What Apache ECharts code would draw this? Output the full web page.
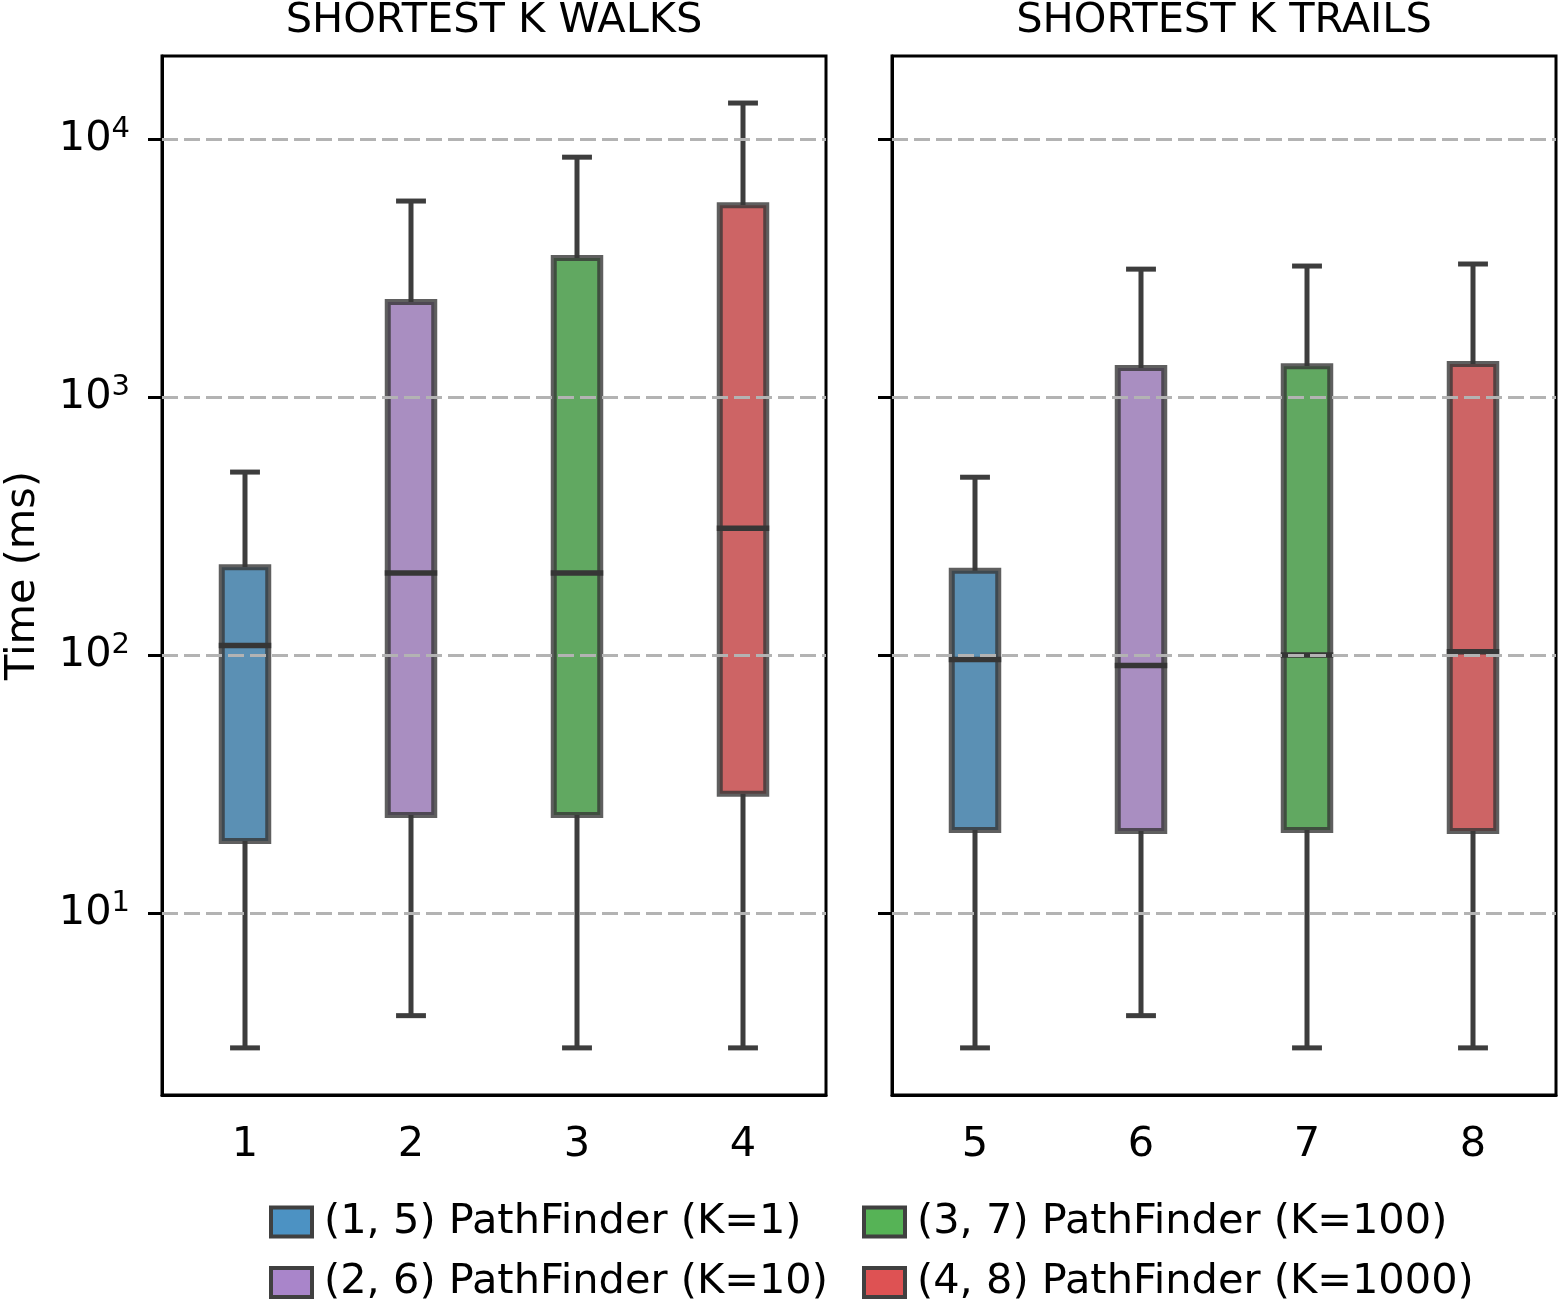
<!DOCTYPE html>
<html>
<head>
<meta charset="utf-8">
<script src="https://cdn.jsdelivr.net/npm/echarts@6/dist/echarts.min.js"></script>
<style>
  html, body { margin: 0; padding: 0; background: #fff; }
  #main { width: 1559px; height: 1300px; }
</style>
</head>
<body>
<div id="main"></div>
<script>
// 数据
const walkCategories = ['1', '2', '3', '4'];
const trailCategories = ['5', '6', '7', '8'];
const panelTitles = ['SHORTEST K WALKS', 'SHORTEST K TRAILS'];
const methodNames = [
  '(1, 5) PathFinder (K=1)',
  '(2, 6) PathFinder (K=10)',
  '(3, 7) PathFinder (K=100)',
  '(4, 8) PathFinder (K=1000)'
];
const yTickValues = [10, 100, 1000, 10000];

// boxes 1..8: lower whisker, Q1, median, Q3, upper whisker (ms)
const whiskerLow = [3, 4, 3, 3, 3, 4, 3, 3];
const quartile1 = [19, 24, 24, 29, 21, 20.8, 21, 20.8];
const medians = [109, 208, 208, 310, 96, 91, 100, 103];
const quartile3 = [219, 2335, 3459, 5546, 212, 1295, 1318, 1342];
const whiskerHigh = [512, 5754, 8511, 13800, 489, 3133, 3221, 3280];

// 颜色
const boxColors = ['#5b90b4', '#a98ec1', '#61a861', '#cd6465'];
const legendColors = ['#4c92c3', '#a985ca', '#56b356', '#de5253'];

const FONT = 'DejaVu Sans';
const FS = 41.5;
const chart = echarts.init(document.getElementById('main'), null, { renderer: 'canvas' });

function makeRender(fill) {
  return function (params, api) {
    const cat = api.value(0);
    const band = api.size([1, 0])[0];
    const boxW = band * 0.28;
    const capW = band * 0.18;
    const lo = api.coord([cat, api.value(1)]);
    const b1 = api.coord([cat, api.value(2)]);
    const md = api.coord([cat, api.value(3)]);
    const b3 = api.coord([cat, api.value(4)]);
    const hi = api.coord([cat, api.value(5)]);
    const cx = lo[0];
    const ws = { stroke: '#3d3d3d', lineWidth: 5 };
    return {
      type: 'group',
      children: [
        { type: 'line', shape: { x1: cx, y1: lo[1], x2: cx, y2: b1[1] }, style: ws },
        { type: 'line', shape: { x1: cx, y1: b3[1], x2: cx, y2: hi[1] }, style: ws },
        { type: 'line', shape: { x1: cx - capW / 2, y1: lo[1], x2: cx + capW / 2, y2: lo[1] }, style: ws },
        { type: 'line', shape: { x1: cx - capW / 2, y1: hi[1], x2: cx + capW / 2, y2: hi[1] }, style: ws },
        {
          type: 'rect',
          shape: { x: cx - boxW / 2, y: b3[1], width: boxW, height: b1[1] - b3[1] },
          style: { fill: fill, stroke: 'rgba(55,55,55,0.8)', lineWidth: 6 }
        },
        {
          type: 'line',
          shape: { x1: cx - boxW / 2 - 3, y1: md[1], x2: cx + boxW / 2 + 3, y2: md[1] },
          style: { stroke: '#363636', lineWidth: 5.5 }
        }
      ]
    };
  };
}

const series = [];
// 网格虚线
[0, 1].forEach(function (g) {
  series.push({
    type: 'line',
    xAxisIndex: g,
    yAxisIndex: g,
    data: [],
    z: 1,
    silent: true,
    markLine: {
      silent: true,
      symbol: 'none',
      label: { show: false },
      animation: false,
      lineStyle: { color: '#b3b3b3', width: 3, type: [16, 6] },
      data: yTickValues.map(function (v) { return { yAxis: v }; })
    }
  });
});
for (let i = 0; i < 8; i++) {
  const g = i < 4 ? 0 : 1;
  const m = i % 4;
  series.push({
    type: 'custom',
    name: methodNames[m],
    xAxisIndex: g,
    yAxisIndex: g,
    z: 3,
    itemStyle: { color: legendColors[m] },
    encode: { x: 0, y: [1, 2, 3, 4, 5] },
    renderItem: makeRender(boxColors[m]),
    data: [[m, whiskerLow[i], quartile1[i], medians[i], quartile3[i], whiskerHigh[i]]]
  });
}

function legendItem(m) {
  return {
    name: methodNames[m],
    icon: 'rect',
    itemStyle: { color: legendColors[m], borderColor: '#404040', borderWidth: 4 }
  };
}
const legendBase = {
  orient: 'vertical',
  top: 1201,
  height: 120,
  padding: 0,
  itemWidth: 41,
  itemHeight: 29,
  itemGap: 18.5,
  selectedMode: false,
  textStyle: { fontSize: FS, fontFamily: FONT, color: '#000', padding: [0, 0, 0, 7] }
};

function xAxisFor(g, cats) {
  return {
    type: 'category',
    gridIndex: g,
    data: cats,
    axisLine: { lineStyle: { color: '#000', width: 3 } },
    axisTick: { alignWithLabel: true, length: 14, lineStyle: { color: '#000', width: 3 } },
    axisLabel: { fontSize: FS, fontFamily: FONT, color: '#000', margin: 29 },
    splitLine: { show: false }
  };
}
function yAxisFor(g, showLabels) {
  return {
    type: 'log',
    logBase: 10,
    gridIndex: g,
    min: 1.97,
    max: 21000,
    name: showLabels ? 'Time (ms)' : '',
    nameLocation: 'middle',
    nameRotate: 90,
    nameGap: 118,
    nameTextStyle: { fontSize: FS, fontFamily: FONT, color: '#000' },
    axisLine: { show: true, lineStyle: { color: '#000', width: 3 } },
    axisTick: { show: true, length: 14, customValues: yTickValues, lineStyle: { color: '#000', width: 3 } },
    axisLabel: {
      show: showLabels,
      customValues: yTickValues,
      margin: 32,
      formatter: function (v) {
        return '{b|10}{s|' + Math.round(Math.log10(v)) + '}';
      },
      rich: {
        b: { fontSize: FS, fontFamily: FONT, color: '#000', lineHeight: 48 },
        s: { fontSize: 29, fontFamily: FONT, color: '#000', lineHeight: 27, verticalAlign: 'top' }
      }
    },
    splitLine: { show: false },
    minorTick: { show: false }
  };
}

const option = {
  animation: false,
  backgroundColor: '#fff',
  grid: [
    { left: 162, top: 56, width: 664, height: 1039, show: true, borderColor: '#000', borderWidth: 3, backgroundColor: 'transparent' },
    { left: 892, top: 56, width: 664, height: 1039, show: true, borderColor: '#000', borderWidth: 3, backgroundColor: 'transparent' }
  ],
  graphic: [
    { type: 'text', x: 494, y: 0, style: { text: panelTitles[0], textAlign: 'center', font: FS + 'px "DejaVu Sans"', fill: '#000' } },
    { type: 'text', x: 1224, y: 0, style: { text: panelTitles[1], textAlign: 'center', font: FS + 'px "DejaVu Sans"', fill: '#000' } }
  ],
  legend: [
    Object.assign({}, legendBase, { left: 269, data: [legendItem(0), legendItem(1)] }),
    Object.assign({}, legendBase, { left: 862, data: [legendItem(2), legendItem(3)] })
  ],
  xAxis: [xAxisFor(0, walkCategories), xAxisFor(1, trailCategories)],
  yAxis: [yAxisFor(0, true), yAxisFor(1, false)],
  series: series
};

chart.setOption(option);
</script>
</body>
</html>
